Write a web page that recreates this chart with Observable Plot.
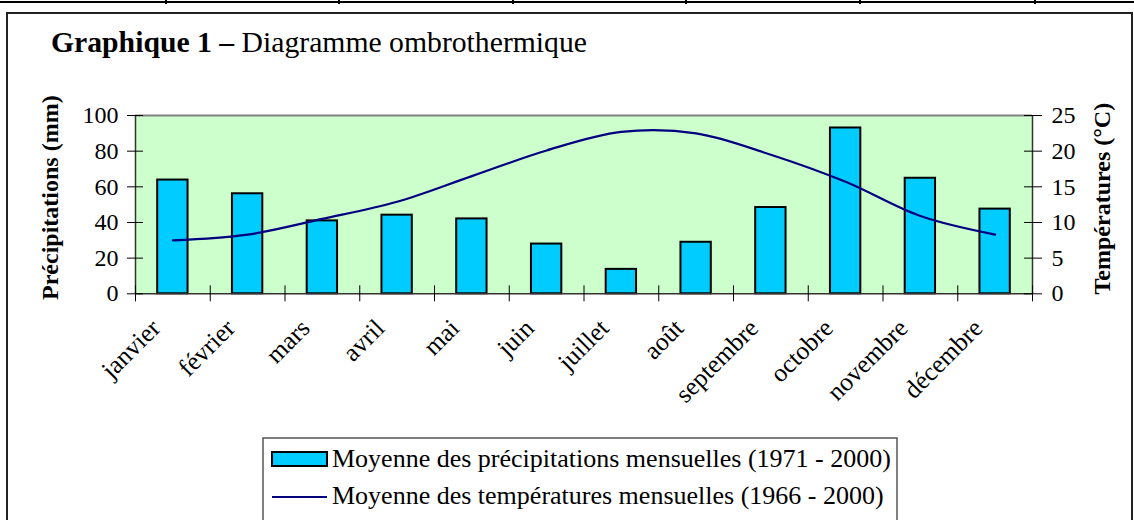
<!DOCTYPE html>
<html>
<head>
<meta charset="utf-8">
<script src="https://cdn.jsdelivr.net/npm/d3@7"></script>
<script src="https://cdn.jsdelivr.net/npm/@observablehq/plot@0.6"></script>
<style>
  html, body { margin: 0; padding: 0; background: #fff; }
  #wrap { position: relative; width: 1134px; height: 520px; overflow: hidden; font-family: "Liberation Serif", "Times New Roman", serif; }
  #chart { position: absolute; left: 0; top: 0; }
</style>
</head>
<body>
<div id="wrap"><div id="chart"></div></div>
<script>
// ---- data ----
const months = ["janvier", "février", "mars", "avril", "mai", "juin", "juillet", "août", "septembre", "octobre", "novembre", "décembre"];
const precipitation = [63.8, 56.1, 40.9, 44.1, 42.0, 27.9, 13.7, 28.9, 48.4, 93.0, 64.8, 47.5];
const temperature = [7.5, 8.3, 10.5, 12.9, 16.5, 20.1, 22.7, 22.5, 19.5, 15.7, 10.9, 8.3];
const precipTicks = [0, 20, 40, 60, 80, 100];
const tempTicks = [0, 5, 10, 15, 20, 25];
const titleBold = "Graphique 1 –";
const titleRest = " Diagramme ombrothermique";
const yLabelLeft = "Précipitations (mm)";
const yLabelRight = "Températures (°C)";
const legendPrecip = "Moyenne des précipitations mensuelles (1971 - 2000)";
const legendTemp = "Moyenne des températures mensuelles (1966 - 2000)";

// ---- layout ----
const W = 1134, H = 520;
const mL = 135, mR = 102, mT = 115, mB = 226.7;
const bw = (W - mL - mR) / months.length;
const tempFactor = precipTicks[precipTicks.length - 1] / tempTicks[tempTicks.length - 1];
const serif = "'Liberation Serif', 'Times New Roman', serif";

const data = months.map((m, i) => ({month: m, precip: precipitation[i], temp: temperature[i]}));

const chart = Plot.plot({
  width: W, height: H,
  marginLeft: mL, marginRight: mR, marginTop: mT, marginBottom: mB,
  style: {fontFamily: serif, fontSize: "22px", color: "#000", background: "transparent", overflow: "visible"},
  x: {type: "band", domain: months, padding: 0, round: false, axis: null},
  y: {domain: [0, 100], axis: null},
  marks: [
    Plot.frame({fill: "#CCFFCC", stroke: null}),
    Plot.ruleY([100], {stroke: "#808080", strokeWidth: 2}),
    Plot.barY(data, {x: "month", y: "precip", fill: "#00CCFF", stroke: "#000", strokeWidth: 2, insetLeft: 22.2, insetRight: 22.2}),
    Plot.lineY(data, {x: "month", y: d => d.temp * tempFactor, stroke: "#000080", strokeWidth: 2.2, curve: "catmull-rom"}),
    Plot.ruleY([0], {stroke: "#333", strokeWidth: 1.5}),
    Plot.ruleX([months[0]], {dx: -bw / 2, stroke: "#333", strokeWidth: 1.5}),
    Plot.ruleX([months[months.length - 1]], {dx: bw / 2, stroke: "#333", strokeWidth: 1.5}),
    Plot.axisY({anchor: "left", ticks: precipTicks, tickSize: 16, dx: 8, tickPadding: 9, label: null, fontSize: 24}),
    Plot.axisY({anchor: "right", ticks: tempTicks.map(t => t * tempFactor), tickFormat: d => d / tempFactor, tickSize: 18, dx: -9, tickPadding: 10, label: null, fontSize: 24}),
    Plot.axisX({anchor: "bottom", tickSize: 16, dy: -8, dx: -bw / 2, tickFormat: () => "", label: null}),
    Plot.axisX({anchor: "bottom", ticks: [months[months.length - 1]], tickSize: 16, dy: -8, dx: bw / 2, tickFormat: () => "", label: null}),
    Plot.text(months, {x: d => d, frameAnchor: "bottom", rotate: -45, textAnchor: "end", dx: -11, dy: 36, fontSize: 25.5}),
    Plot.text([yLabelLeft], {frameAnchor: "left", rotate: -90, textAnchor: "middle", dx: -85, dy: -7, fontWeight: "bold", fontSize: 24}),
    Plot.text([yLabelRight], {frameAnchor: "right", rotate: -90, textAnchor: "middle", dx: 70, dy: -6, fontWeight: "bold", fontSize: 24})
  ]
});
document.getElementById("chart").append(chart);

// ---- decorations: frame, title, legend ----
const ov = d3.select("#wrap").append("svg")
  .attr("width", W).attr("height", H)
  .style("position", "absolute").style("left", 0).style("top", 0)
  .style("font-family", serif);

ov.append("line").attr("x1", 0).attr("x2", W).attr("y1", 2).attr("y2", 2).attr("stroke", "#000").attr("stroke-width", 2);
[166, 339, 513, 686, 860, 1035].forEach(x =>
  ov.append("line").attr("x1", x).attr("x2", x).attr("y1", 0).attr("y2", 4).attr("stroke", "#000").attr("stroke-width", 2));
ov.append("rect").attr("x", 7).attr("y", 13).attr("width", 1125).attr("height", 540)
  .attr("fill", "none").attr("stroke", "#222").attr("stroke-width", 2);

const t = ov.append("text").attr("x", 51).attr("y", 52).attr("font-size", 29.7).attr("fill", "#000");
t.append("tspan").attr("font-weight", "bold").text(titleBold);
t.append("tspan").text(titleRest);

ov.append("rect").attr("x", 263).attr("y", 438).attr("width", 634).attr("height", 120)
  .attr("fill", "none").attr("stroke", "#555").attr("stroke-width", 1.5);
ov.append("rect").attr("x", 272).attr("y", 452).attr("width", 55).attr("height", 14)
  .attr("fill", "#00CCFF").attr("stroke", "#000").attr("stroke-width", 2);
ov.append("text").attr("x", 332).attr("y", 467).attr("font-size", 26).text(legendPrecip);
ov.append("line").attr("x1", 272).attr("x2", 327).attr("y1", 497).attr("y2", 497)
  .attr("stroke", "#000080").attr("stroke-width", 2);
ov.append("text").attr("x", 332).attr("y", 504).attr("font-size", 26).text(legendTemp);
</script>
</body>
</html>
